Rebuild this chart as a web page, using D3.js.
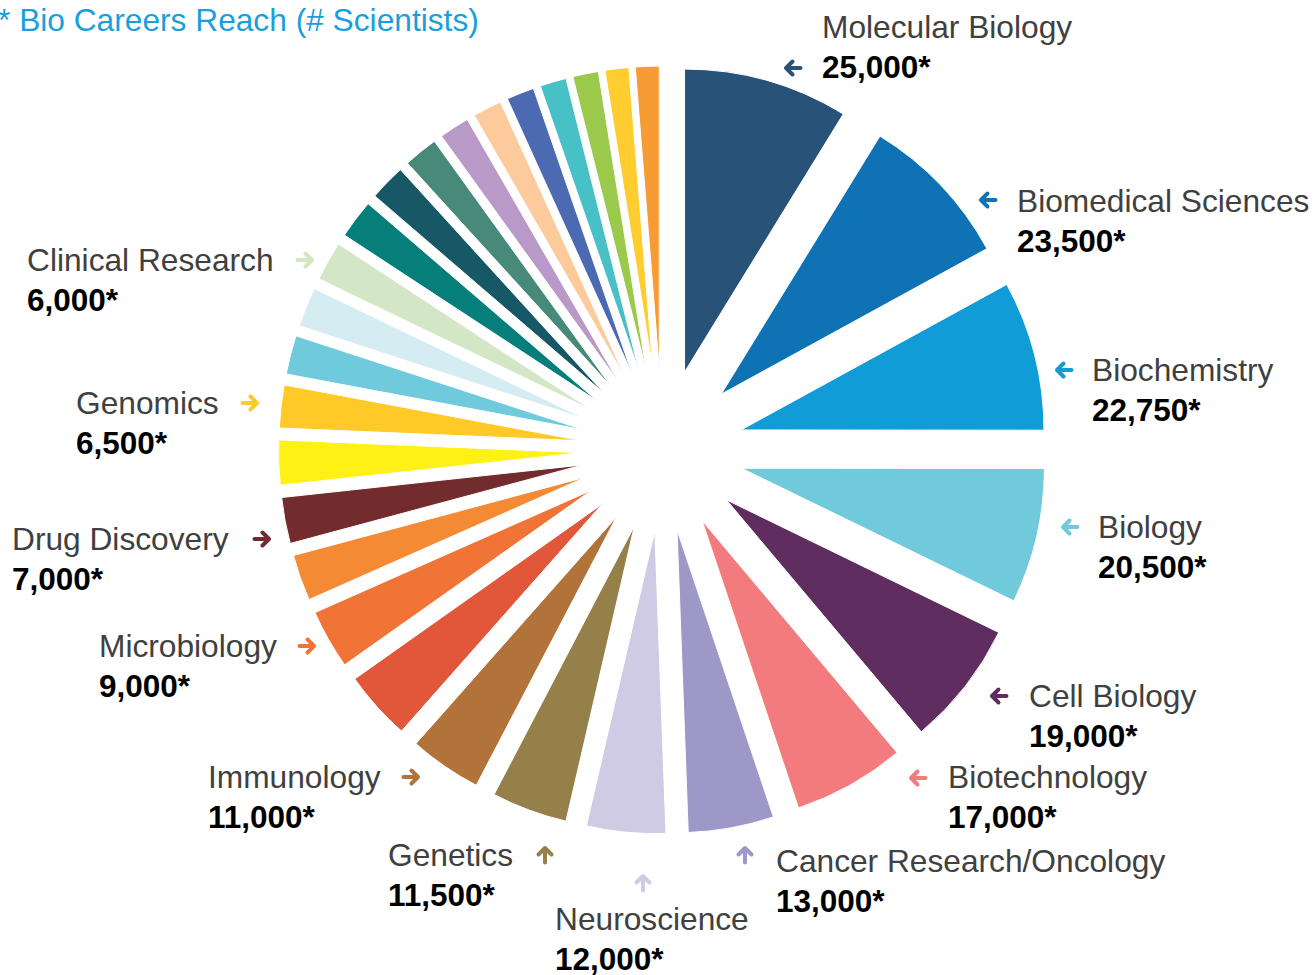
<!DOCTYPE html>
<html lang="en">
<head>
<meta charset="utf-8">
<title>Bio Careers Reach</title>
<script src="https://d3js.org/d3.v7.min.js"></script>
<style>
    html, body {
        margin: 0;
        padding: 0;
        background: #fff;
    }
    svg text {
        font-family: "Liberation Sans", Arial, sans-serif;
    }
    .title {
        fill: #1a9fda;
        font-size: 31.7px;
    }
    .name {
        fill: #404040;
        font-size: 31.7px;
    }
    .num {
        fill: #000;
        font-size: 31.5px;
        font-weight: bold;
    }
</style>
</head>
<body>
<svg id="chart" width="1314" height="975"></svg>
<script>
//_____________________________DATA_____________________________
// slices clockwise from 12 o'clock; "" = slice without a label
var fields = ["Molecular Biology", "Biomedical Sciences", "Biochemistry", "Biology",
    "Cell Biology", "Biotechnology", "Cancer Research/Oncology", "Neuroscience",
    "Genetics", "Immunology", "", "Microbiology", "", "Drug Discovery", "",
    "Genomics", "", "", "Clinical Research", "", "", "", "", "", "", "", "", "", ""];

var scientists = [25000, 23500, 22750, 20500, 19000, 17000, 13000, 12000,
    11500, 11000, 10500, 9000, 7000, 7000, 6800, 6500, 5900, 6000, 6000,
    5900, 5500, 5200, 4600, 4400, 4200, 4000, 3900, 3600, 3600];

var sliceColors = ["#285277", "#0e72b5", "#109cd6", "#70cadb", "#5f2d60", "#f37b7d",
    "#9e98c9", "#cfcbe4", "#96804a", "#b1733a", "#e2573a", "#f07436", "#f58a35",
    "#722c2e", "#fff015", "#ffca28", "#6fcadb", "#d4ecf2", "#d3e7c7", "#067f7b",
    "#175866", "#488a7a", "#b899c8", "#fdca9b", "#4b6ab2", "#47c1c6", "#9bc94c",
    "#ffcd30", "#f79b34"];

var titleText = "* Bio Careers Reach (# Scientists)";

//_____________________________LAYOUT_____________________________
var cx = 662.5, cy = 450;      // pie centre
var radius = 303;              // slice radius
var explode = 81;              // every slice pulled out from the centre

// callouts: text left x, name baseline, arrow centre and direction
var callouts = {
    "Molecular Biology":        {x: 822,  y: 38,  ax: 793,  ay: 68,  dir: "left"},
    "Biomedical Sciences":      {x: 1017, y: 212, ax: 988,  ay: 200, dir: "left"},
    "Biochemistry":             {x: 1092, y: 381, ax: 1064, ay: 370, dir: "left"},
    "Biology":                  {x: 1098, y: 538, ax: 1070, ay: 527, dir: "left"},
    "Cell Biology":             {x: 1029, y: 707, ax: 999,  ay: 696, dir: "left"},
    "Biotechnology":            {x: 948,  y: 788, ax: 918,  ay: 778, dir: "left"},
    "Cancer Research/Oncology": {x: 776,  y: 872, ax: 745,  ay: 855, dir: "up"},
    "Neuroscience":             {x: 555,  y: 930, ax: 643,  ay: 883, dir: "up"},
    "Genetics":                 {x: 388,  y: 866, ax: 545,  ay: 855, dir: "up"},
    "Immunology":               {x: 208,  y: 788, ax: 411,  ay: 777, dir: "right"},
    "Microbiology":             {x: 99,   y: 657, ax: 307,  ay: 646, dir: "right"},
    "Drug Discovery":           {x: 12,   y: 550, ax: 262,  ay: 539, dir: "right"},
    "Genomics":                 {x: 76,   y: 414, ax: 250,  ay: 403, dir: "right"},
    "Clinical Research":        {x: 27,   y: 271, ax: 305,  ay: 260, dir: "right"}
};

//_____________________________SVG_____________________________
var svg = d3.select("#chart");

var pie = d3.pie().sort(null).value(function (d) { return d; });
var arc = d3.arc().innerRadius(0).outerRadius(radius);

var slices = pie(scientists);

svg.append("g")
    .attr("transform", "translate(" + cx + "," + cy + ")")
  .selectAll("path")
    .data(slices)
    .enter().append("path")
    .attr("d", arc)
    .attr("fill", function (d, i) { return sliceColors[i]; })
    .attr("stroke", "#fff")
    .attr("stroke-width", 1)
    .attr("transform", function (d) {
        var m = (d.startAngle + d.endAngle) / 2;
        return "translate(" + (explode * Math.sin(m)) + "," + (-explode * Math.cos(m)) + ")";
    });

//_____________________________TITLE_____________________________
svg.append("text")
    .attr("class", "title")
    .attr("x", -2)
    .attr("y", 31)
    .text(titleText);

//_____________________________LABELS_____________________________
var fmt = d3.format(",");

// arrow path around (0,0) pointing left, rotated for other directions
var arrowPath = "M7.5,0 L-6.5,0 M-0.5,-6.5 L-7,0 L-0.5,6.5";
var rot = {left: 0, up: 90, right: 180};

var labelled = slices.filter(function (d, i) { return fields[i] !== ""; });

var lab = svg.append("g").selectAll("g")
    .data(labelled)
    .enter().append("g");

lab.append("text")
    .attr("class", "name")
    .attr("x", function (d) { return callouts[fields[d.index]].x; })
    .attr("y", function (d) { return callouts[fields[d.index]].y; })
    .text(function (d) { return fields[d.index]; });

lab.append("text")
    .attr("class", "num")
    .attr("x", function (d) { return callouts[fields[d.index]].x; })
    .attr("y", function (d) { return callouts[fields[d.index]].y + 40; })
    .text(function (d) { return fmt(d.data) + "*"; });

lab.append("path")
    .attr("d", arrowPath)
    .attr("fill", "none")
    .attr("stroke", function (d) { return sliceColors[d.index]; })
    .attr("stroke-width", 4)
    .attr("stroke-linecap", "round")
    .attr("stroke-linejoin", "round")
    .attr("transform", function (d) {
        var c = callouts[fields[d.index]];
        return "translate(" + c.ax + "," + c.ay + ") rotate(" + rot[c.dir] + ")";
    });
</script>
</body>
</html>
